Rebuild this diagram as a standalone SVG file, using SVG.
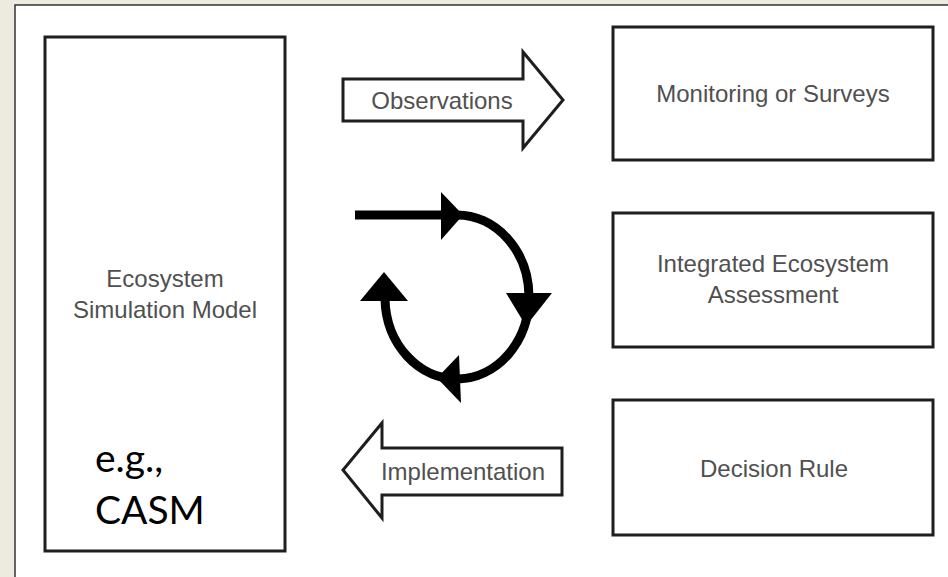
<svg xmlns="http://www.w3.org/2000/svg" width="948" height="577" viewBox="0 0 948 577">
<defs>
<style>
.box{fill:#ffffff;stroke:#1e1e1e;stroke-width:3}
.lbl{font-family:"Liberation Sans",Arial,sans-serif;font-size:24px;fill:#505050;text-anchor:middle}
.note{font-family:Lato,"Open Sans",sans-serif;font-size:39px;fill:#000000}
.blk{fill:#ffffff;stroke:#1e1e1e;stroke-width:3;stroke-linejoin:miter}
.cyc{fill:none;stroke:#000000;stroke-width:9}
.head{fill:#000000;stroke:none}
</style>
</defs>
<rect x="0" y="0" width="948" height="577" fill="#EDEAE0"/>
<rect x="15" y="5" width="940" height="580" fill="#ffffff" stroke="#333333" stroke-width="1.5"/>

<g id="node-model">
<rect class="box" x="45" y="37" width="240" height="514"/>
<text class="lbl" x="165" y="287">Ecosystem</text>
<text class="lbl" x="165" y="318">Simulation Model</text>
<text class="note" x="95" y="472">e.g.,</text>
<text class="note" x="95" y="524">CASM</text>
</g>

<g id="node-monitoring">
<rect class="box" x="613" y="27" width="320" height="133"/>
<text class="lbl" x="773" y="102">Monitoring or Surveys</text>
</g>

<g id="node-assessment">
<rect class="box" x="613" y="213" width="320" height="134"/>
<text class="lbl" x="773" y="272">Integrated Ecosystem</text>
<text class="lbl" x="773" y="303">Assessment</text>
</g>

<g id="node-decision">
<rect class="box" x="613" y="400" width="320" height="135"/>
<text class="lbl" x="774" y="477">Decision Rule</text>
</g>

<g id="connectors">
<g id="arrow-observations">
<path class="blk" d="M343,79 L523,79 L523,52 L563,100 L523,148 L523,121 L343,121 Z"/>
<text class="lbl" x="442" y="109">Observations</text>
</g>
<g id="arrow-implementation">
<path class="blk" d="M562,448 L382,448 L382,423 L343,470 L382,518 L382,495 L562,495 Z"/>
<text class="lbl" x="463" y="480">Implementation</text>
</g>
<g id="cycle">
<line class="cyc" x1="355" y1="215" x2="448" y2="215" stroke-width="10"/>
<path class="cyc" d="M457,215 A72,82 0 1 1 385,299"/>
<polygon class="head" points="441,192 463,215 441,240"/>
<polygon class="head" points="506,293 552,293 526,326"/>
<polygon class="head" points="459,355 437,378 461,403"/>
<polygon class="head" points="360,301 384,272 408,301"/>
</g>
</g>
</svg>
